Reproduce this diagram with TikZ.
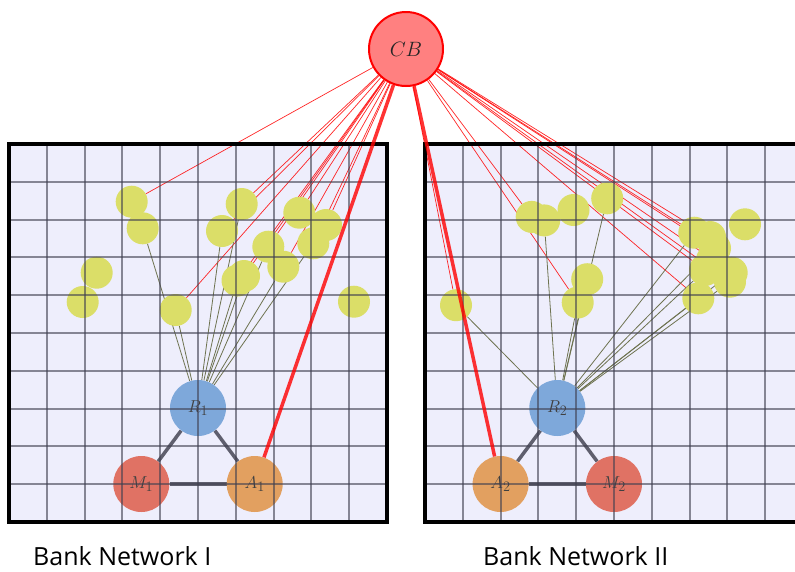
\documentclass[tikz,border=0pt]{standalone}
\usepackage{fontspec}
\newfontfamily\labelfont{Open Sans}
\definecolor{panelbg}{HTML}{EEEEFC}
\definecolor{gridcol}{HTML}{404050}
\definecolor{cbfill}{HTML}{FF8080}
\definecolor{rcol}{HTML}{7EA8DA}
\definecolor{mcol}{HTML}{E07264}
\definecolor{acol}{HTML}{E2A060}
\definecolor{extcol}{HTML}{DBDE68}
\definecolor{tricol}{HTML}{50505F}
\definecolor{olivecol}{HTML}{6E7350}
\pgfdeclarelayer{panel}
\pgfdeclarelayer{edges}
\pgfdeclarelayer{gridl}
\pgfdeclarelayer{top}
\pgfsetlayers{panel,edges,main,gridl,top}
\tikzset{
  bank/.style={circle, minimum size=56pt, inner sep=0pt, text=black!75,
    font=\fontsize{19}{22}\selectfont},
  ext/.style={circle, fill=extcol, minimum size=32pt, inner sep=0pt},
  cbnode/.style={circle, draw=red, line width=2pt, fill=cbfill, minimum size=74pt,
    inner sep=0pt, text=black!85, font=\fontsize{21}{24}\selectfont},
  gridline/.style={draw=gridcol, line width=1.4pt, opacity=0.6},
  border/.style={draw=black, line width=3.5pt},
  thinred/.style={draw=red, line width=0.7pt, opacity=0.85},
  thickred/.style={draw=red, line width=3.5pt, opacity=0.8},
  oliveline/.style={draw=olivecol, line width=0.8pt},
  triline/.style={draw=tricol, line width=3.5pt, opacity=0.9},
  banklabel/.style={font=\labelfont\fontsize{25}{28}\selectfont, anchor=base west,
    inner sep=0pt, text depth=0pt}
}
\begin{document}
\begin{tikzpicture}[x=1pt,y=-1pt]
\useasboundingbox (0,0) rectangle (795,571);
\clip (0,0) rectangle (795,571);

% panels
\begin{pgfonlayer}{panel}
  \fill[panelbg] (9,144) rectangle (387,522);
  \fill[panelbg] (425,144) rectangle (803,522);
\end{pgfonlayer}
\begin{pgfonlayer}{gridl}
  \foreach \k in {1,...,9}{
    \pgfmathsetmacro{\gx}{round(9+37.8*\k)}
    \pgfmathsetmacro{\gy}{round(144+37.8*\k)}
    \pgfmathsetmacro{\hx}{round(425+37.8*\k)}
    \draw[gridline] (\gx,144) -- (\gx,522);
    \draw[gridline] (9,\gy) -- (387,\gy);
    \draw[gridline] (\hx,144) -- (\hx,522);
    \draw[gridline] (425,\gy) -- (803,\gy);
  }
\end{pgfonlayer}

% central bank
\node[cbnode] (cb) at (406,49) {$CB$};

% bank network I
\node[bank, fill=rcol] (r1) at (198,408) {$R_1$};
\node[bank, fill=mcol] (m1) at (141.3,484) {$M_1$};
\node[bank, fill=acol] (a1) at (254.7,484) {$A_1$};

% bank network II
\node[bank, fill=rcol] (r2) at (557.3,408) {$R_2$};
\node[bank, fill=acol] (a2) at (500.6,484) {$A_2$};
\node[bank, fill=mcol] (m2) at (614,484) {$M_2$};

% external nodes, network I
\foreach \n/\x/\y in {L1/131.7/201.7, L2/142.7/228.3, L3/241.7/204, L4/222/231,
  L5/299.3/212.7, L6/326/225, L7/313.3/243.3, L8/268.3/246.7, L9/283.3/266.7,
  L10/244/276, L11/237.5/280.5, L12/96.7/272.7, L13/82.7/302, L14/175.7/310,
  L15/354/301.7}
  \node[ext] (\n) at (\x,\y) {};

% external nodes, network II
\foreach \n/\x/\y in {Ra/531.7/216.9, Rb/544.2/220.4, Rc/573.5/210, Rd/607.2/198.3,
  Re/587.2/279.2, Rf/577.7/302.5, Rg/456/305.2, Rh/694.3/232.7, Ri/710/237,
  Rj/715/248.3, Rk/745/224.3, Rp/712/260, Rl/705/270, Rm/731.7/272.7,
  Rn/730/281.7, Ro/698.3/298.3}
  \node[ext] (\n) at (\x,\y) {};

\begin{pgfonlayer}{edges}
  \foreach \t in {L1,L3,L4,L5,L6,L7,L8,L9,L10,L11,L14}
    \draw[thinred] (cb) -- (\t);
  \foreach \t in {Rg,Ra,Rf,Ro,Rl,Rh,Ri,Rj,Rm,Rn}
    \draw[thinred] (cb) -- (\t);
  \foreach \t in {L2,L14,L4,L3,L11,L10,L8,L9,L7}
    \draw[oliveline] (r1) -- (\t);
  \foreach \t in {Rg,Rb,Rd,Re,Rf,Rh,Rj,Rl,Rm,Rn,Ro}
    \draw[oliveline] (r2) -- (\t);
  \draw[triline] (r1) -- (m1);
  \draw[triline] (r1) -- (a1);
  \draw[triline] (m1) -- (a1);
  \draw[triline] (r2) -- (a2);
  \draw[triline] (r2) -- (m2);
  \draw[triline] (a2) -- (m2);
\end{pgfonlayer}

\begin{pgfonlayer}{top}
  \draw[border] (9,144) rectangle (387,522);
  \draw[border] (425,144) rectangle (803,522);
  \draw[thickred] (cb) -- (a1);
  \draw[thickred] (cb) -- (a2);
\end{pgfonlayer}

\node[banklabel] (lab1) at (33,565) {Bank Network I};
\node[banklabel] (lab2) at (483,565) {Bank Network II};
\end{tikzpicture}
\end{document}
